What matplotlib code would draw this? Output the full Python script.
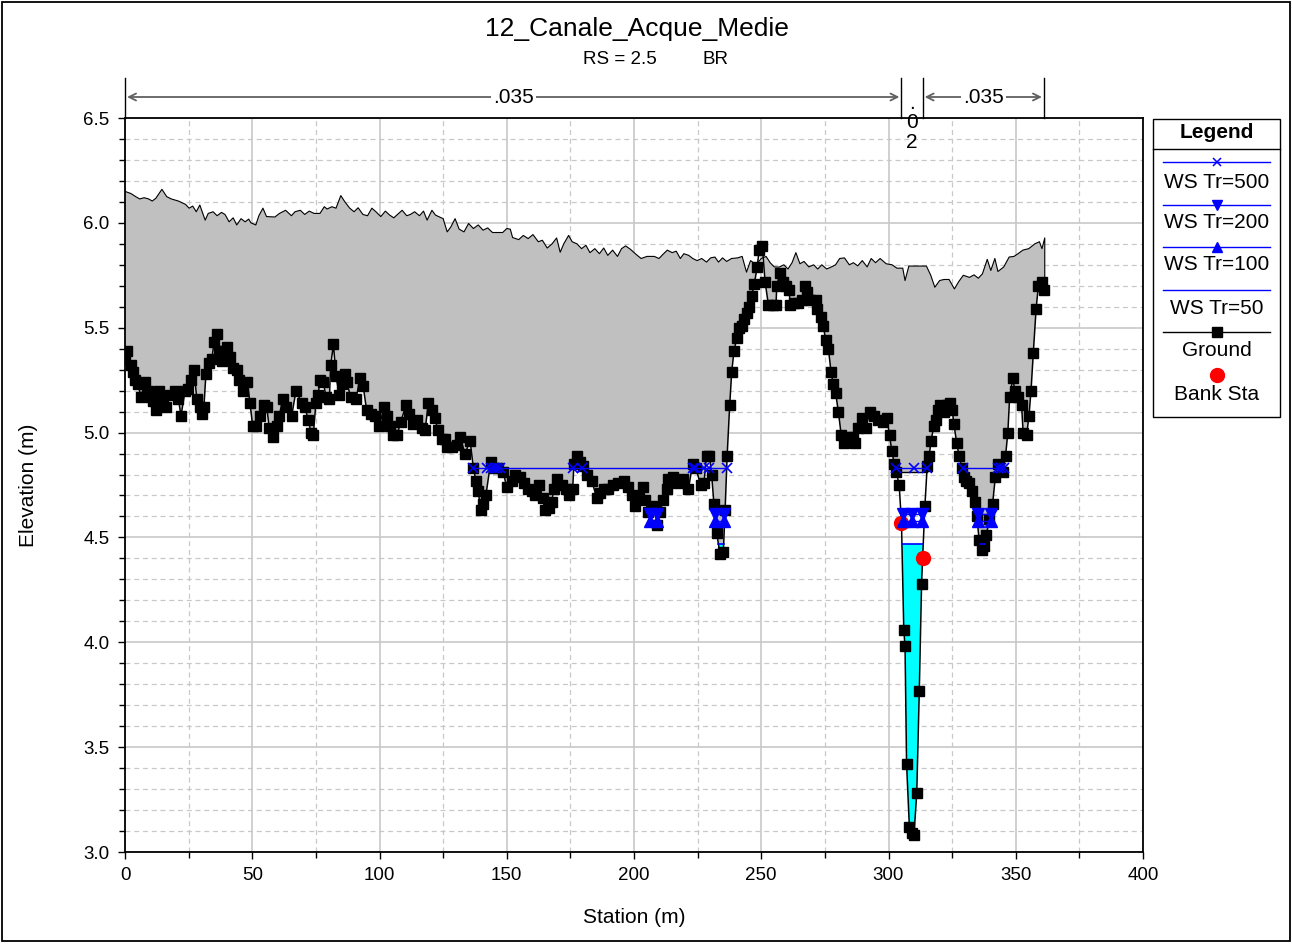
import numpy as np
import matplotlib
matplotlib.use("Agg")
import matplotlib.pyplot as plt
from matplotlib.transforms import blended_transform_factory
from matplotlib.patches import Rectangle

plt.rcParams['font.family'] = ['Liberation Sans', 'DejaVu Sans']

title = "12_Canale_Acque_Medie"
subtitle_rs = "RS = 2.5"
subtitle_type = "BR"

# Ground profile (station m, elevation m)
ground_sta = [
    0.0, 0.9, 2.2, 3.3, 3.9, 5.2, 6.2, 7.9, 9.2, 10.1, 11.1, 12.1, 13.5, 15.1, 16.1,
    17.7, 19.6, 21.0, 22.0, 23.6, 24.6, 25.8, 27.1, 28.2, 29.5, 30.1, 31.0, 31.8, 33.1,
    34.1, 35.0, 36.0, 37.1, 38.0, 38.9, 40.2, 41.3, 42.6, 44.1, 44.9, 46.2, 48.1, 49.1,
    50.2, 51.5, 53.0, 54.6, 55.7, 56.7, 58.0, 59.6, 60.6, 62.0, 63.3, 65.5, 67.2, 69.4,
    70.7, 72.0, 73.1, 74.0, 75.0, 75.9, 76.6, 77.9, 79.0, 80.3, 80.8, 81.9, 82.9, 84.2,
    85.1, 86.4, 87.1, 88.7, 90.8, 92.3, 93.6, 94.9, 96.6, 98.2, 99.9, 101.8, 103.1,
    104.1, 105.2, 107.0, 108.3, 110.4, 111.7, 113.0, 114.6, 116.6, 117.9, 119.2, 120.5,
    121.8, 122.9, 124.4, 125.7, 126.6, 128.4, 130.3, 131.6, 133.6, 135.6, 136.9, 137.9,
    138.8, 139.8, 140.8, 141.8, 143.7, 145.0, 146.7, 148.6, 150.0, 151.9, 153.2, 155.2,
    156.8, 158.5, 159.8, 161.1, 162.8, 164.1, 165.0, 166.7, 167.6, 168.6, 169.9, 171.6,
    173.3, 174.6, 175.9, 176.4, 177.5, 178.8, 180.1, 181.6, 183.4, 185.3, 186.6, 188.2,
    189.9, 191.9, 193.8, 196.1, 197.8, 199.1, 200.4, 202.1, 203.4, 204.3, 205.6, 206.9,
    208.2, 209.2, 210.2, 211.5, 212.8, 213.5, 215.5, 217.4, 219.4, 221.4, 223.0, 224.3,
    226.2, 227.5, 228.5, 229.6, 230.5, 231.4, 232.5, 233.8, 235.1, 235.8, 236.6, 237.6,
    238.4, 239.3, 240.4, 241.4, 242.3, 243.3, 244.3, 245.3, 246.2, 247.3, 248.4, 249.2,
    250.4, 251.5, 252.8, 254.5, 255.8, 256.1, 257.4, 258.4, 259.7, 261.0, 261.3, 262.9,
    264.6, 265.9, 267.2, 268.1, 269.2, 271.5, 272.0, 273.4, 274.4, 275.3, 276.4, 277.4,
    278.3, 279.2, 280.3, 281.4, 282.5, 284.2, 285.9, 286.8, 288.1, 289.5, 291.0, 292.7,
    294.3, 296.0, 297.7, 299.3, 300.4, 301.3, 302.3, 303.1, 304.2, 305.1, 306.0, 306.5,
    307.1, 308.2, 309.1, 310.0, 311.1, 312.1, 313.0, 313.4, 314.3, 315.2, 316.0, 316.7,
    317.8, 318.5, 319.5, 320.4, 321.7, 323.0, 324.0, 325.0, 325.7, 326.8, 327.7, 328.8,
    329.7, 330.6, 331.7, 332.7, 333.9, 334.7, 335.6, 336.7, 337.6, 338.5, 339.6, 340.9,
    342.0, 342.9, 344.9, 346.0, 346.9, 347.6, 348.9, 349.6, 350.7, 352.3, 352.9, 354.3,
    355.2, 356.0, 356.9, 358.0, 358.9, 360.2, 361.1,
]
ground_elev = [
    5.35, 5.39, 5.32, 5.29, 5.25, 5.23, 5.17, 5.24, 5.20, 5.17, 5.15, 5.11, 5.20, 5.16, 5.12,
    5.18, 5.20, 5.16, 5.08, 5.20, 5.21, 5.25, 5.30, 5.16, 5.12, 5.09, 5.12, 5.28, 5.33,
    5.35, 5.43, 5.47, 5.39, 5.34, 5.39, 5.41, 5.36, 5.31, 5.30, 5.25, 5.20, 5.24, 5.14,
    5.03, 5.03, 5.08, 5.13, 5.12, 5.02, 4.98, 5.03, 5.08, 5.16, 5.12, 5.08, 5.20, 5.14,
    5.12, 5.06, 5.00, 4.99, 5.14, 5.18, 5.25, 5.24, 5.17, 5.16, 5.32, 5.42, 5.27, 5.18,
    5.23, 5.28, 5.24, 5.17, 5.16, 5.26, 5.22, 5.11, 5.09, 5.08, 5.03, 5.12, 5.08,
    5.03, 4.99, 4.99, 5.05, 5.13, 5.09, 5.04, 5.06, 5.02, 5.01, 5.14, 5.11,
    5.07, 5.01, 4.97, 4.97, 4.93, 4.93, 4.94, 4.98, 4.90, 4.96, 4.83, 4.77,
    4.72, 4.63, 4.66, 4.70, 4.86, 4.83, 4.83, 4.81, 4.74, 4.77, 4.80, 4.79,
    4.76, 4.73, 4.72, 4.70, 4.75, 4.69, 4.63, 4.64, 4.67, 4.73, 4.78, 4.75,
    4.73, 4.70, 4.73, 4.85, 4.89, 4.86, 4.84, 4.80, 4.77, 4.69, 4.71, 4.73,
    4.73, 4.75, 4.76, 4.77, 4.74, 4.70, 4.65, 4.69, 4.74, 4.68, 4.62, 4.65,
    4.64, 4.56, 4.62, 4.68, 4.73, 4.78, 4.79, 4.76, 4.78, 4.73, 4.85, 4.83,
    4.75, 4.76, 4.89, 4.89, 4.80, 4.66, 4.52, 4.42, 4.43, 4.63, 4.89, 5.13,
    5.29, 5.39, 5.45, 5.50, 5.51, 5.54, 5.57, 5.60, 5.65, 5.71, 5.79, 5.87,
    5.89, 5.72, 5.61, 5.61, 5.61, 5.70, 5.76, 5.72, 5.70, 5.68, 5.61, 5.62,
    5.62, 5.63, 5.70, 5.67, 5.63, 5.63, 5.59, 5.55, 5.51, 5.44, 5.40, 5.29,
    5.23, 5.19, 5.10, 4.99, 4.95, 4.98, 4.98, 4.95, 5.02, 5.07, 5.02, 5.10,
    5.08, 5.06, 5.05, 5.07, 4.99, 4.91, 4.85, 4.81, 4.75, 4.57, 4.06, 3.98,
    3.42, 3.12, 3.09, 3.08, 3.28, 3.77, 4.28, 4.40, 4.65, 4.84, 4.89, 4.96,
    5.03, 5.06, 5.11, 5.13, 5.10, 5.13, 5.14, 5.11, 5.04, 4.95, 4.89, 4.83,
    4.79, 4.77, 4.76, 4.72, 4.67, 4.60, 4.49, 4.44, 4.46, 4.51, 4.59, 4.66,
    4.79, 4.85, 4.81, 4.89, 5.00, 5.17, 5.26, 5.20, 5.17, 5.13, 5.00, 4.99,
    5.08, 5.20, 5.38, 5.59, 5.70, 5.72, 5.68,
]

# Bridge deck / road top (high chord)
top_sta = [
    0.0, 2.3, 4.2, 5.8, 7.5, 9.3, 10.7, 12.1, 14.5, 16.4, 18.2, 21.0, 23.8, 25.2, 26.6,
    28.0, 29.4, 31.5, 32.7, 34.6, 36.2, 37.9, 39.3, 40.9, 42.5, 43.9, 45.6, 47.2, 48.6,
    49.5, 51.4, 52.6, 54.2, 55.6, 58.9, 60.7, 63.1, 65.4, 66.8, 68.9, 70.6, 72.4, 74.3,
    76.6, 78.3, 79.4, 81.3, 82.9, 84.8, 86.4, 88.3, 90.0, 91.6, 93.5, 95.3, 97.0, 98.6,
    100.5, 102.3, 104.0, 105.6, 107.5, 108.9, 110.7, 112.1, 113.8, 115.7, 117.3, 118.7,
    120.6, 122.0, 125.0, 126.6, 128.0, 129.7, 131.3, 133.2, 135.0, 136.9, 138.8, 140.7,
    142.5, 144.4, 148.4, 150.0, 151.4, 152.3, 154.7, 156.5, 158.4, 160.3, 162.4, 164.0,
    165.9, 167.8, 169.6, 171.0, 172.4, 174.3, 175.7, 177.6, 179.4, 181.1, 182.7, 184.6,
    186.4, 188.1, 189.7, 191.6, 193.5, 195.1, 196.7, 198.6, 200.5, 202.8, 205.1, 208.0,
    209.8, 211.4, 213.1, 215.0, 216.6, 218.2, 219.6, 221.5, 223.1, 224.8, 226.6, 228.5,
    230.1, 231.8, 233.2, 234.8, 236.4, 238.3, 240.7, 242.5, 244.2, 245.8, 248.0, 250.0,
    251.9, 253.5, 255.1, 257.0, 258.9, 260.5, 262.1, 263.6, 265.2, 266.8, 268.7, 270.6,
    272.2, 273.8, 275.7, 277.6, 279.2, 280.8, 282.7, 284.6, 286.2, 287.9, 289.7, 291.6,
    293.2, 294.9, 296.7, 299.1, 301.4, 303.3, 305.6, 306.5, 308.0, 310.7, 314.9, 316.6,
    318.2, 320.1, 321.8, 323.8, 325.9, 327.6, 329.4, 331.8, 333.6, 335.3, 336.9, 338.8,
    340.2, 341.8, 343.0, 345.3, 347.4, 349.3, 350.9, 352.8, 355.1, 357.5, 359.3, 360.3,
    361.4,
]
top_elev = [
    6.15, 6.14, 6.125, 6.114, 6.12, 6.114, 6.104, 6.117, 6.16, 6.125, 6.114, 6.104, 6.088,
    6.07, 6.08, 6.053, 6.085, 6.013, 6.045, 6.053, 6.034, 6.05, 6.04, 6.005, 6.024, 5.99,
    6.02, 6.005, 6.018, 6.0, 5.99, 6.034, 6.07, 6.03, 6.028, 6.045, 6.06, 6.034, 6.053,
    6.06, 6.04, 6.056, 6.045, 6.045, 6.077, 6.066, 6.077, 6.07, 6.13, 6.10, 6.07, 6.053,
    6.072, 6.04, 6.034, 6.07, 6.053, 6.03, 6.056, 6.037, 6.024, 6.045, 6.06, 6.034, 6.04,
    6.053, 6.034, 6.056, 6.013, 6.06, 6.037, 6.02, 5.957, 5.98, 6.02, 5.97, 5.957, 5.997,
    5.973, 5.99, 5.965, 5.976, 5.954, 5.954, 5.973, 5.97, 5.93, 5.92, 5.94, 5.925, 5.944,
    5.91, 5.917, 5.88, 5.90, 5.928, 5.86, 5.90, 5.94, 5.91, 5.90, 5.877, 5.893, 5.858,
    5.877, 5.853, 5.88, 5.845, 5.87, 5.84, 5.877, 5.89, 5.874, 5.853, 5.83, 5.84, 5.84,
    5.83, 5.85, 5.87, 5.858, 5.865, 5.83, 5.853, 5.845, 5.83, 5.82, 5.83, 5.813, 5.833,
    5.837, 5.813, 5.833, 5.816, 5.83, 5.833, 5.84, 5.765, 5.82, 5.80, 5.83, 5.84, 5.81,
    5.79, 5.789, 5.80, 5.78, 5.81, 5.858, 5.805, 5.816, 5.79, 5.80, 5.78, 5.80, 5.78,
    5.79, 5.80, 5.83, 5.833, 5.80, 5.81, 5.795, 5.82, 5.79, 5.83, 5.81, 5.83, 5.805,
    5.80, 5.784, 5.784, 5.725, 5.794, 5.794, 5.794, 5.75, 5.693, 5.725, 5.73, 5.73,
    5.685, 5.72, 5.75, 5.74, 5.752, 5.736, 5.757, 5.826, 5.773, 5.83, 5.768, 5.79,
    5.837, 5.84, 5.853, 5.87, 5.877, 5.90, 5.91, 5.877, 5.928,
]

# Low chord across the bridge opening
low_chord_sta = [302.9, 315.2]
low_chord_elev = 4.81

# Bank stations
bank_sta = [305.1, 313.4]
bank_elev = [4.57, 4.40]

# Water surface profiles
ws500 = 4.83
ws500_segments = [(136.9, 236.4), (302.9, 315.2), (329.4, 345.4)]
ws500_marks = [136.9, 142.3, 143.7, 145.0, 146.1, 147.4, 176.2, 179.6, 223.0, 223.9,
               227.5, 229.6, 236.4, 302.9, 309.9, 315.0, 329.4, 343.1, 344.2, 345.4]
ws200 = 4.61
ws100 = 4.58
ws_mid_segments = [(206.0, 209.4), (231.8, 235.4), (305.5, 313.2), (334.9, 340.4)]
ws_mid_marks = [206.2, 209.2, 231.8, 235.4, 305.7, 309.3, 313.1, 335.0, 340.3]
ws50 = 4.47

manning_n = [".035", ".02", ".035"]

GRAY = "#C0C0C0"
BLUE = "#0000FF"
CYAN = "#00FFFF"

fig = plt.figure(figsize=(12.92, 9.44), dpi=100)
ax = fig.add_axes([125 / 1292, 1 - 852 / 944, (1143 - 125) / 1292, (852 - 118) / 944])

gs = np.array(ground_sta)
ge = np.array(ground_elev)
ts = np.array(top_sta)
te = np.array(top_elev)

# Deck polygon: between road top and ground (or the low chord inside the opening)
xs = np.union1d(np.union1d(gs, ts), np.linspace(ts[0], ts[-1], 4000))
g_i = np.interp(xs, gs, ge)
t_i = np.interp(xs, ts, te)
in_open = (xs >= low_chord_sta[0]) & (xs <= low_chord_sta[1])
lower = np.where(in_open, np.maximum(g_i, low_chord_elev), g_i)
ax.fill_between(xs, lower, t_i, where=t_i > lower, color=GRAY, lw=0, zorder=2)

# Water below the lowest profile
xw = np.union1d(gs, np.linspace(gs[0], gs[-1], 8000))
gw = np.interp(xw, gs, ge)
ax.fill_between(xw, gw, ws50, where=gw < ws50, interpolate=True, color=CYAN, lw=0, zorder=3)

# Road top line, closing down to the ground at the right abutment
ax.plot(np.append(ts, ts[-1]), np.append(te, np.interp(ts[-1], gs, ge)),
        color="black", lw=0.8, zorder=4)
# Low chord line in the opening
ax.plot(low_chord_sta, [low_chord_elev, low_chord_elev], color="black", lw=1.0, zorder=4)

# Ground
ax.plot(gs, ge, color="black", lw=1.1, marker="s", ms=6.5, mfc="black", mec="black", zorder=5)

# Bank stations
ax.plot(bank_sta, bank_elev, ls="none", marker="o", ms=10, mfc="red", mec="red", zorder=6)


def wet_intervals(level):
    """Intervals where the ground lies below a given water level."""
    out = []
    below = ge < level
    start = None
    for i in range(len(gs)):
        if below[i] and start is None:
            j = i - 1
            start = gs[j] + (level - ge[j]) / (ge[i] - ge[j]) * (gs[i] - gs[j])
        if not below[i] and start is not None:
            j = i - 1
            end = gs[j] + (level - ge[j]) / (ge[i] - ge[j]) * (gs[i] - gs[j])
            out.append((start, end))
            start = None
    return out


# WS Tr=50
for a, b in wet_intervals(ws50):
    ax.plot([a, b], [ws50, ws50], color=BLUE, lw=1.2, zorder=7)

# WS Tr=100 / Tr=200
for a, b in ws_mid_segments:
    ax.plot([a, b], [ws100, ws100], color=BLUE, lw=1.0, zorder=7)
    ax.plot([a, b], [ws200, ws200], color=BLUE, lw=1.0, zorder=7)
ax.plot(ws_mid_marks, [ws100] * len(ws_mid_marks), ls="none", marker="^", ms=8,
        mfc=BLUE, mec=BLUE, zorder=8)
ax.plot(ws_mid_marks, [ws200] * len(ws_mid_marks), ls="none", marker="v", ms=8,
        mfc=BLUE, mec=BLUE, zorder=8)

# WS Tr=500
for a, b in ws500_segments:
    ax.plot([a, b], [ws500, ws500], color=BLUE, lw=1.0, zorder=7)
ax.plot(ws500_marks, [ws500] * len(ws500_marks), ls="none", marker="x", ms=7, mew=1.2,
        color=BLUE, zorder=8)

# Axes, grid, ticks
ax.set_xlim(0, 400)
ax.set_ylim(3.0, 6.5)
ax.set_xticks(np.arange(0, 401, 50))
ax.set_xticks(np.arange(0, 401, 25), minor=True)
ax.set_yticks(np.arange(3.0, 6.51, 0.5))
ax.set_yticks(np.arange(3.0, 6.51, 0.1), minor=True)
ax.set_yticklabels([f"{v:.1f}" for v in np.arange(3.0, 6.51, 0.5)])
ax.grid(which="major", color="#C8C8C8", lw=1.2, ls="-", zorder=0)
ax.grid(which="minor", color="#C8C8C8", lw=0.9, ls=(0, (4, 3)), zorder=0)
ax.set_axisbelow(True)
ax.tick_params(which="major", direction="out", length=5, width=1, labelsize=13.5, pad=6)
ax.tick_params(which="minor", direction="out", length=4, width=1)
for sp in ax.spines.values():
    sp.set_linewidth(1.3)
ax.set_xlabel("Station (m)", fontsize=15)
ax.set_ylabel("Elevation (m)", fontsize=15)
ax.xaxis.set_label_coords(0.5, -0.076)
ax.yaxis.set_label_coords(-0.085, 0.5)

# Manning's n bands above the plot
trans = blended_transform_factory(ax.transData, ax.transAxes)
n_breaks = [gs[0], bank_sta[0], bank_sta[1], gs[-1]]
for xb in n_breaks:
    ax.plot([xb, xb], [1.0, 1.0545], transform=trans, color="black", lw=1.0, clip_on=False)
y_arr = 1.0286
for k, (a, b) in enumerate(zip(n_breaks[:-1], n_breaks[1:])):
    if k == 1:
        ax.text((a + b) / 2, 0.9935, ".\n0\n2", transform=trans, ha="center", va="center",
                fontsize=15, linespacing=1.05, clip_on=False, zorder=20)
        continue
    ax.annotate("", xy=(a, y_arr), xytext=(b, y_arr), xycoords=trans, textcoords=trans,
                arrowprops=dict(arrowstyle="<->,head_length=0.5,head_width=0.25",
                                color="#606060", lw=1.3, shrinkA=1.5, shrinkB=1.5),
                annotation_clip=False)
    ax.text((a + b) / 2, y_arr, manning_n[k], transform=trans, ha="center", va="center",
            fontsize=15, clip_on=False,
            bbox=dict(boxstyle="square,pad=0.1", fc="white", ec="none"))

# Titles
fig.text(637 / 1292, 1 - 29 / 944, title, ha="center", va="center", fontsize=19)
fig.text(583 / 1292, 1 - 59 / 944, subtitle_rs, ha="left", va="center", fontsize=13.5)
fig.text(703 / 1292, 1 - 59 / 944, subtitle_type, ha="left", va="center", fontsize=13.5)

# Legend and outer frame drawn in pixel space
ov = fig.add_axes([0, 0, 1, 1], zorder=10)
ov.set_xlim(0, 1292)
ov.set_ylim(944, 0)
ov.axis("off")
ov.add_patch(Rectangle((1.5, 1.5), 1288.5, 939.5, fill=False, ec="black", lw=1.3))
ov.add_patch(Rectangle((1153, 119), 127, 298, fill=False, ec="black", lw=1.0))
ov.plot([1153, 1280], [149, 149], color="black", lw=1.0)
ov.text(1216.5, 132, "Legend", ha="center", va="center", fontsize=15, fontweight="bold")

lx0, lx1, lxm = 1163, 1270, 1216.5
entries = [
    ("WS Tr=500", 162, 182, dict(color=BLUE, marker="x", ms=6, mew=1.1)),
    ("WS Tr=200", 205, 223, dict(color=BLUE, marker="v", ms=7)),
    ("WS Tr=100", 247, 265, dict(color=BLUE, marker="^", ms=7)),
    ("WS Tr=50", 290, 309, dict(color=BLUE, marker=None)),
    ("Ground", 332, 351, dict(color="black", marker="s", ms=6.5)),
]
for label, yl, yt, st in entries:
    ov.plot([lx0, lx1], [yl, yl], color=st["color"], lw=1.0)
    if st["marker"]:
        ov.plot([lxm], [yl], ls="none", marker=st["marker"], ms=st["ms"],
                mew=st.get("mew", 1.0), color=st["color"])
    ov.text(lxm, yt, label, ha="center", va="center", fontsize=15)
ov.plot([lxm], [375], ls="none", marker="o", ms=10, color="red")
ov.text(lxm, 394, "Bank Sta", ha="center", va="center", fontsize=15)

fig.savefig("out.png", dpi=100)
